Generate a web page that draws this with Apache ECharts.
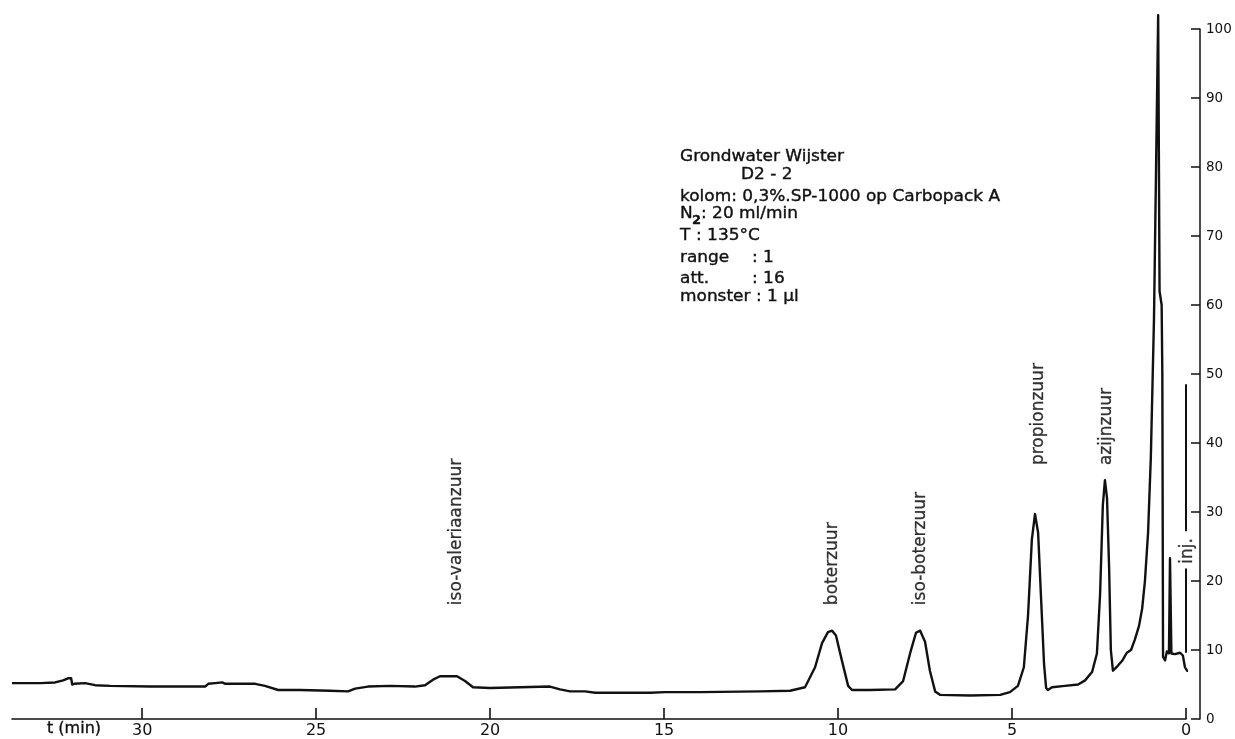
<!DOCTYPE html>
<html>
<head>
<meta charset="utf-8">
<title>Grondwater Wijster D2-2</title>
<script src="https://cdn.jsdelivr.net/npm/echarts@6/dist/echarts.min.js"></script>
<style>
  html, body { margin: 0; padding: 0; background: #fff; }
  #chart { width: 1235px; height: 739px; }
</style>
</head>
<body>
<div id="chart"></div>
<script>
// Gas chromatogram of volatile fatty acids, retention time in minutes (axis runs right to left)
const retentionTime = [
  33.74, 32.93, 32.50, 32.27, 32.13, 32.04, 32.01, 31.95, 31.64, 31.35, 30.92, 29.77,
  28.19, 28.10, 27.90, 27.70, 27.61, 26.75, 26.47, 26.09, 25.46, 24.60, 24.08, 23.88,
  23.51, 22.87, 22.16, 21.87, 21.64, 21.44, 20.95, 20.72, 20.49, 20.00, 19.14, 18.28,
  17.99, 17.70, 17.27, 16.98, 15.40, 14.97, 13.97, 12.24, 11.38, 10.95, 10.66, 10.46,
  10.29, 10.17, 10.06, 9.89, 9.71, 9.60, 9.08, 8.36, 8.13, 7.93, 7.76, 7.64, 7.50,
  7.36, 7.21, 7.07, 6.21, 5.34, 5.06, 4.83, 4.66, 4.54, 4.43, 4.34, 4.25, 4.17, 4.08,
  4.02, 3.97, 3.85, 3.48, 3.10, 2.90, 2.70, 2.56, 2.47, 2.39, 2.33, 2.27, 2.21, 2.16,
  2.10, 1.98, 1.84, 1.70, 1.58, 1.47, 1.35, 1.26, 1.18, 1.09, 1.01, 0.92, 0.86, 0.80,
  0.76, 0.70, 0.68, 0.66, 0.60, 0.55, 0.49, 0.46, 0.42, 0.32, 0.17, 0.09, 0.03, -0.03, -0.32
];
const detectorSignal = [
  5.2, 5.2, 5.3, 5.6, 5.9, 5.9, 5.0, 5.1, 5.2, 4.9, 4.8, 4.7,
  4.7, 5.1, 5.2, 5.3, 5.1, 5.1, 4.8, 4.2, 4.2, 4.1, 4.0, 4.4,
  4.7, 4.8, 4.7, 4.9, 5.7, 6.2, 6.2, 5.5, 4.6, 4.5, 4.6, 4.7,
  4.3, 4.0, 4.0, 3.8, 3.8, 3.9, 3.9, 4.0, 4.1, 4.6, 7.5, 11.0,
  12.6, 12.8, 12.1, 8.5, 4.8, 4.2, 4.2, 4.3, 5.5, 9.5, 12.5, 12.8, 11.2,
  7.0, 4.0, 3.5, 3.4, 3.5, 3.9, 4.8, 7.5, 15.0, 26.0, 29.7, 27.0, 18.0, 8.0,
  4.5, 4.2, 4.6, 4.8, 5.0, 5.6, 6.8, 9.5, 18.0, 31.0, 34.6, 32.0, 22.0, 10.0,
  7.0, 7.6, 8.4, 9.6, 10.0, 11.5, 13.5, 16.0, 20.0, 27.0, 38.0, 58.0, 80.0, 102.0,
  62.0, 60.0, 50.0, 9.0, 8.5, 9.8, 9.5, 23.3, 9.5, 9.4, 9.6, 9.2, 7.5, 7.0, 7.0
];
const timeTicks = [0, 5, 10, 15, 20, 25, 30];
const peakNames = ['iso-valeriaanzuur', 'boterzuur', 'iso-boterzuur', 'propionzuur', 'azijnzuur'];
const peakTimes = [20.95, 10.17, 7.64, 4.25, 2.27];
const injectionTime = 0;
const infoLines = [
  'Grondwater Wijster',
  'D2 - 2',
  'kolom: 0,3%.SP-1000 op Carbopack A',
  ': 20 ml/min',
  ': 135\u00b0C',
  'range',
  'att.',
  'monster : 1 \u00b5l'
];

const ink = '#111111';
const font = 'DejaVu Sans';

const trace = retentionTime.map((t, i) => [t, detectorSignal[i]]);
// foot of each vertical peak name, in signal units
const labelFoot = [16.5, 16.5, 16.5, 36.8, 36.8];
const peakLabels = peakNames.map((n, i) => ({ name: n, value: [peakTimes[i], labelFoot[i]] }));

const chart = echarts.init(document.getElementById('chart'), null, { renderer: 'canvas' });

// widened header text, anchored at its left edge and vertical centre
function infoText(str, x, y, opts) {
  opts = opts || {};
  return {
    type: 'text', x: x, y: y, scaleX: opts.scaleX || 1.13, silent: true,
    style: {
      text: str, fill: ink, stroke: ink, lineWidth: 0.35,
      font: (opts.weight ? opts.weight + ' ' : '') + (opts.size || 15) + 'px "' + font + '"',
      verticalAlign: 'middle', align: 'left'
    }
  };
}

chart.setOption({
  animation: false,
  backgroundColor: '#ffffff',
  grid: { left: 12, right: 49, top: 29, bottom: 20, containLabel: false },
  xAxis: {
    type: 'value',
    min: 0,
    max: 33.74,
    inverse: true,
    splitLine: { show: false },
    axisLine: { show: true, onZero: false, lineStyle: { color: ink, width: 1.6 } },
    axisTick: { show: true, inside: true, length: 11, customValues: timeTicks, lineStyle: { color: ink, width: 1.6 } },
    axisLabel: { customValues: timeTicks, margin: 4, color: ink, fontFamily: font, fontSize: 16 }
  },
  yAxis: {
    type: 'value',
    position: 'right',
    offset: 14,
    min: 0,
    max: 100,
    interval: 10,
    splitLine: { show: false },
    axisLine: { show: true, onZero: false, lineStyle: { color: ink, width: 1.5 } },
    axisTick: { show: true, inside: true, length: 9, lineStyle: { color: ink, width: 1.5 } },
    axisLabel: { margin: 6, color: ink, fontFamily: font, fontSize: 13.5 }
  },
  series: [
    {
      name: 'signaal',
      type: 'line',
      data: trace,
      showSymbol: false,
      clip: false,
      lineStyle: { color: ink, width: 2.4, join: 'round' },
      z: 3
    },
    {
      name: 'inj',
      type: 'line',
      data: [[injectionTime, 48.5], [injectionTime, 27.2]],
      showSymbol: false,
      clip: false,
      lineStyle: { color: ink, width: 2 }
    },
    {
      name: 'inj2',
      type: 'line',
      data: [[injectionTime, 21.8], [injectionTime, 9.6]],
      showSymbol: false,
      clip: false,
      lineStyle: { color: ink, width: 2 }
    },
    {
      name: 'piekn',
      type: 'scatter',
      data: peakLabels.concat([{ name: 'inj.', value: [injectionTime - 0.05, 22.5] }]),
      symbolSize: 0.1,
      itemStyle: { color: 'rgba(0,0,0,0)' },
      clip: false,
      label: {
        show: true,
        position: 'inside',
        rotate: 90,
        align: 'left',
        verticalAlign: 'middle',
        formatter: p => p.name,
        color: '#000',
        textBorderColor: '#000',
        textBorderWidth: 0.3,
        fontFamily: font,
        fontSize: 17
      }
    }
  ],
  graphic: [
    infoText('t (min)', 47, 729, { size: 16, scaleX: 1 }),
    infoText(infoLines[0], 680, 157),
    infoText(infoLines[1], 741, 175),
    infoText(infoLines[2], 680, 197),
    infoText('N', 680, 214),
    infoText('2', 692, 221, { size: 13, weight: 'bold', scaleX: 1 }),
    infoText(infoLines[3], 701, 214),
    infoText('T', 680, 236),
    infoText(infoLines[4], 696, 236),
    infoText(infoLines[5], 680, 258),
    infoText(': 1', 752, 258),
    infoText(infoLines[6], 680, 279),
    infoText(': 16', 752, 279),
    infoText(infoLines[7], 680, 297)
  ]
});
</script>
</body>
</html>
